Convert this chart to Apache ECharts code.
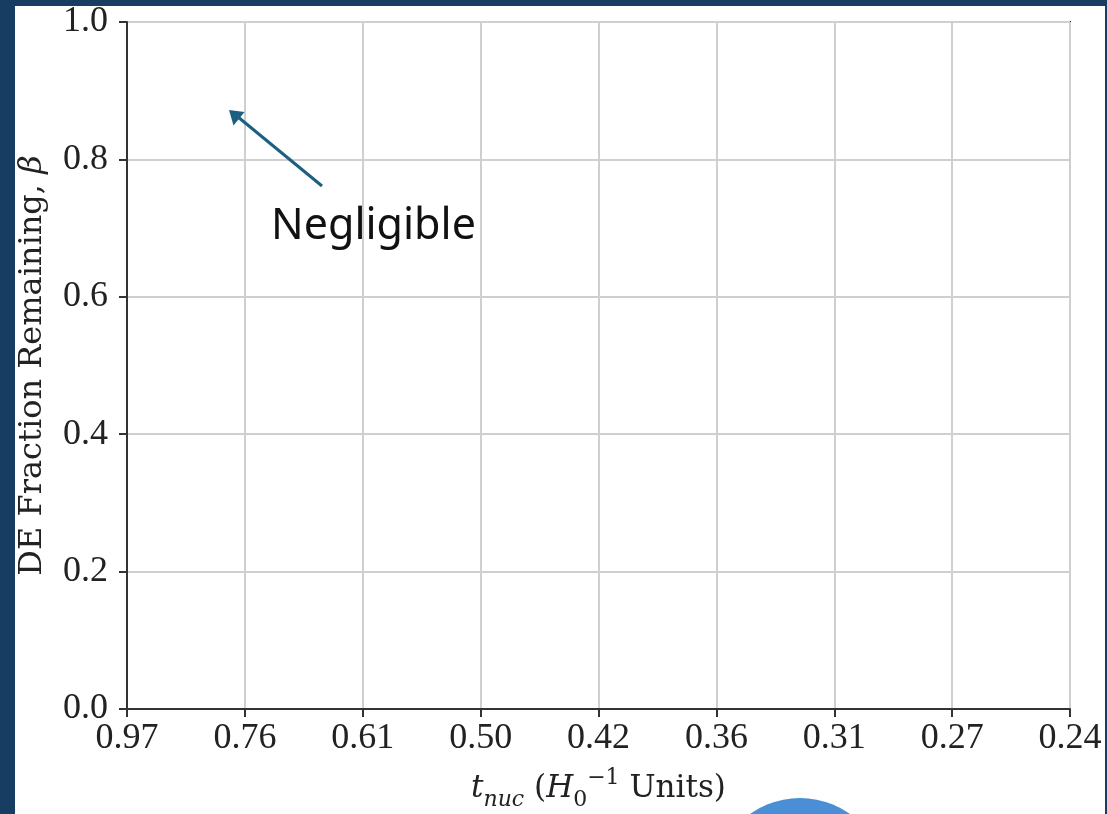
<!DOCTYPE html>
<html>
<head>
<meta charset="utf-8">
<script src="https://cdn.jsdelivr.net/npm/echarts@6/dist/echarts.min.js"></script>
<style>
html,body{margin:0;padding:0;background:#173d63;}
#chart{width:1107px;height:814px;}
</style>
</head>
<body>
<div id="chart"></div>
<script>
// Tick labels of the x axis (t_nuc in H0^-1 units)
const xCategories = ['0.97', '0.76', '0.61', '0.50', '0.42', '0.36', '0.31', '0.27', '0.24'];
// Y axis range / ticks
const yMin = 0, yMax = 1, yInterval = 0.2;
// No data series are drawn in the reference (empty plot)
const betaValues = [];
// Annotation text
const annotationText = 'Negligible';

const chart = echarts.init(document.getElementById('chart'));
const serif = '"Liberation Serif", "DejaVu Serif", serif';
const nameSerif = '"DejaVu Serif", "Liberation Serif", serif';

const option = {
  backgroundColor: '#173d63',
  animation: false,
  grid: {
    left: 127, right: 37, top: 22, bottom: 105,
    outerBoundsMode: 'none',
    containLabel: false,
    show: true, borderColor: '#333', borderWidth: 2, backgroundColor: 'transparent'
  },
  xAxis: {
    type: 'category',
    data: xCategories,
    boundaryGap: false,
    name: '{i|t}{sub|nuc} {m|(}{i|H}{sub2|0}{sup|−1}{m| Units)}',
    nameLocation: 'middle',
    nameGap: 58,
    nameTextStyle: {
      fontFamily: nameSerif, fontSize: 31, color: '#222', lineHeight: 44,
      rich: {
        m: { fontFamily: nameSerif, fontSize: 31, color: '#222', lineHeight: 44, verticalAlign: 'middle' },
        i: { fontFamily: nameSerif, fontStyle: 'italic', fontSize: 31, color: '#222', lineHeight: 44, verticalAlign: 'middle' },
        sub: { fontFamily: nameSerif, fontStyle: 'italic', fontSize: 22, color: '#222', verticalAlign: 'bottom', lineHeight: 24 },
        sub2: { fontFamily: nameSerif, fontSize: 22, color: '#222', verticalAlign: 'bottom', lineHeight: 20 },
        sup: { fontFamily: nameSerif, fontSize: 22, color: '#222', verticalAlign: 'top', lineHeight: 22 }
      }
    },
    axisLine: { show: true, lineStyle: { color: '#333', width: 2 } },
    axisTick: { show: true, alignWithLabel: true, length: 8, lineStyle: { color: '#333', width: 2 } },
    axisLabel: { fontFamily: serif, fontSize: 36, color: '#222', margin: 12 },
    splitLine: { show: true, lineStyle: { color: '#cfcfcf', width: 2 } }
  },
  yAxis: {
    type: 'value',
    min: yMin, max: yMax, interval: yInterval,
    name: 'DE Fraction Remaining, {i|β}',
    nameLocation: 'middle',
    nameGap: 78,
    nameRotate: 90,
    nameTextStyle: {
      fontFamily: nameSerif, fontSize: 32, color: '#222',
      rich: { i: { fontFamily: nameSerif, fontStyle: 'italic', fontSize: 32, color: '#222' } }
    },
    axisLine: { show: true, lineStyle: { color: '#333', width: 2 } },
    axisTick: { show: true, length: 8, lineStyle: { color: '#333', width: 2 } },
    axisLabel: { fontFamily: serif, fontSize: 36, color: '#222', margin: 19, formatter: v => v.toFixed(1) },
    splitLine: { show: true, lineStyle: { color: '#cfcfcf', width: 2 } }
  },
  series: [{ type: 'line', data: betaValues, silent: true }],
  graphic: [
    { type: 'rect', z: -10, shape: { x: 15, y: 6, width: 1090, height: 820 }, style: { fill: '#ffffff' } },
    { type: 'circle', z: 100, shape: { cx: 800, cy: 884, r: 86 }, style: { fill: '#4a8fd6' } },
    { type: 'line', z: 100, shape: { x1: 322, y1: 186, x2: 238, y2: 117 }, style: { stroke: '#1d5f80', lineWidth: 3 } },
    { type: 'polygon', z: 100, shape: { points: [[229, 110], [233.5, 125.5], [244.5, 112]] }, style: { fill: '#1d5f80' } },
    { type: 'text', z: 100, left: 271, top: 205, style: { text: annotationText, font: '43px "Noto Sans", sans-serif', fill: '#111' } }
  ]
};
chart.setOption(option);
</script>
</body>
</html>
